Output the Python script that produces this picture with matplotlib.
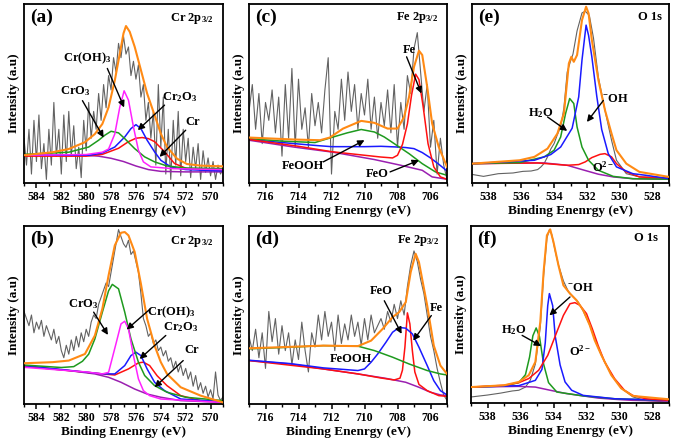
import numpy as np
import matplotlib
matplotlib.use("Agg")
import matplotlib.pyplot as plt
from matplotlib.ticker import MultipleLocator

plt.rcParams['font.family'] = ['Liberation Serif', 'DejaVu Serif']
plt.rcParams['font.weight'] = 'bold'
plt.rcParams['mathtext.fontset'] = 'custom'
plt.rcParams['mathtext.rm'] = 'Liberation Serif:bold'
plt.rcParams['mathtext.it'] = 'Liberation Serif:bold'
plt.rcParams['mathtext.bf'] = 'Liberation Serif:bold'

# ---------------- data (intensity in % of axis height) ----------------
# (a) Cr 2p3/2
a_raw_E = np.round(np.arange(585.0, 568.9, -0.2), 1)
a_raw = [25, 10, 30, 5, 35, 12, 38, 8, 22, 2, 30, 10, 45, 15, 30, 5, 38, 12, 40, 15,
         32, 8, 20, 3, 35, 18, 45, 25, 40, 30, 50, 35, 55, 42, 60, 52, 70, 62, 78, 70,
         82, 72, 76, 60, 68, 58, 66, 48, 55, 35, 45, 25, 40, 10, 55, 20, 48, 5, 30, 2,
         35, 10, 40, 4, 30, 12, 25, 3, 20, 8, 22, 2, 18, 6, 14, 4, 12, 2, 10, 5, 8]
a_purple_E = [585, 580, 579, 578, 577, 576, 575, 574, 572, 569]
a_purple = [15.5, 15.5, 15.0, 13.8, 12.0, 9.5, 7.5, 6.5, 6.2, 6.2]
a_red_E = [585, 580, 578.7, 577.4, 576.6, 576.0, 575.5, 575.0, 574.5, 573.7, 572.9, 571.9, 569]
a_red = [15, 15, 16, 19.4, 23.1, 25.0, 25.4, 24.8, 23.1, 17.5, 10.9, 8.0, 7.0]
a_blue_E = [585, 579.7, 578.7, 577.7, 576.9, 576.4, 576.0, 575.6, 575.1, 574.5, 574.0, 573.2, 572, 569]
a_blue = [15.5, 15.5, 16.8, 20.1, 25.7, 30.4, 32.6, 30.4, 23.9, 17.4, 12.7, 9.0, 7.5, 6.7]
a_green_E = [585, 581.4, 579.8, 579.0, 578.5, 578.0, 577.4, 576.9, 576.1, 575.3, 574.5, 573.5, 572, 569]
a_green = [16.0, 17.2, 20.1, 23.9, 26.7, 28.9, 28.0, 24.8, 19.2, 14.6, 11.8, 9.5, 8.4, 8.0]
a_magenta_E = [585, 580, 578.7, 578.2, 577.7, 577.3, 576.95, 576.6, 576.2, 575.8, 575.4, 574.8, 573, 569]
a_magenta = [15.5, 15.9, 17.2, 19.0, 27.4, 42.3, 51.5, 46.3, 31.3, 18.3, 11.8, 9.0, 8.0, 7.5]
a_orange_E = [585, 582.7, 581.4, 580.1, 579.3, 578.7, 578.2, 577.7, 577.3, 577.0, 576.8, 576.5,
              576.1, 575.6, 575.1, 574.5, 574.0, 573.5, 572.7, 571.9, 570.8, 569]
a_orange = [15.5, 17.2, 19.0, 22.8, 27.4, 33.0, 42.3, 57.3, 72.2, 83.6, 87.7, 84.5,
            76.1, 63.1, 50.0, 37.9, 27.6, 20.1, 13.6, 10.6, 9.7, 9.3]

# (b) Cr 2p3/2
b_raw_E = np.round(np.arange(585.0, 568.9, -0.2), 1)
b_raw = [52, 48, 44, 50, 40, 46, 42, 47, 38, 44, 40, 36, 42, 34, 38, 30, 26, 33, 28, 36,
         30, 38, 32, 40, 35, 42, 38, 46, 50, 48, 56, 60, 64, 68, 66, 74, 82, 90, 98, 94,
         90, 88, 92, 84, 86, 80, 74, 62, 48, 44, 38, 40, 34, 36, 30, 32, 27, 30, 24, 26,
         20, 24, 18, 22, 16, 20, 14, 18, 10, 16, 8, 12, 6, 10, 4, 8, 3, 18, 5, 2, 4]
b_purple_E = [585, 581.4, 579.3, 578.2, 577.2, 576.1, 575.1, 574.0, 572.4, 569]
b_purple = [21.2, 18.8, 16.9, 15.0, 12.2, 8.4, 5.6, 3.8, 1.9, 0.9]
b_green_E = [585, 582, 581, 580.3, 579.8, 579.3, 578.7, 578.2, 577.9, 577.4, 576.9, 576.4,
             575.8, 575.3, 574.5, 573.5, 572, 569]
b_green = [21.9, 20.5, 21.0, 24.0, 28.0, 36.6, 51.6, 63.6, 67.2, 64.7, 51.6, 36.6,
           23.5, 16.0, 10.3, 6.6, 3.8, 1.9]
b_magenta_E = [585, 580, 578.7, 578.2, 577.6, 577.2, 576.9, 576.6, 576.2, 575.8, 575.4, 574.9, 574.0, 569]
b_magenta = [20.6, 18.0, 16.9, 17.8, 34.0, 45.0, 46.5, 42.2, 27.2, 14.1, 7.5, 4.7, 2.8, 0.9]
b_blue_E = [585, 579.5, 578.7, 577.7, 576.9, 576.4, 576.0, 575.6, 575.1, 574.5, 573.7, 572.4, 569]
b_blue = [21.6, 17.5, 16.9, 16.9, 21.6, 27.2, 29.1, 27.2, 19.7, 12.2, 7.5, 2.8, 1.3]
b_red_E = [585, 579.5, 578.7, 577.7, 576.6, 575.8, 575.4, 574.9, 574.3, 573.5, 572.4, 570.8, 569]
b_red = [21.2, 17.5, 16.9, 16.3, 19.7, 23.1, 23.5, 21.6, 15.9, 10.3, 4.7, 1.9, 1.3]
b_orange_E = [585, 582.7, 581.4, 580.1, 579.3, 578.7, 578.2, 577.7, 577.2, 576.9, 576.6,
              576.1, 575.6, 575.1, 574.5, 574.0, 573.5, 572.4, 570.8, 569]
b_orange = [22.9, 23.5, 24.4, 28.1, 38.5, 53.5, 72.2, 89.1, 96.2, 96.6, 94.7,
            85.4, 67.5, 47.8, 32.8, 23.5, 16.9, 9.4, 4.7, 0.9]

# (c) Fe 2p3/2
c_raw_E = np.round(np.arange(717.0, 704.9, -0.2), 1)
c_raw = [40, 55, 30, 50, 22, 45, 35, 52, 28, 48, 15, 55, 25, 64, 20, 58, 30, 42, 20, 50,
         32, 45, 28, 52, 70, 5, 40, 30, 58, 35, 62, 40, 55, 30, 50, 38, 58, 30, 48, 25,
         45, 32, 52, 28, 55, 20, 45, 30, 60, 50, 75, 84, 62, 40, 55, 20, 35, 5, 25, 10, 2]
c_purple_E = [717, 714.3, 711.9, 709.4, 707.8, 706.5, 705.9, 705]
c_purple = [23.9, 20.1, 17.2, 13.1, 9.9, 7.1, 3.4, 2.1]
c_red_E = [717, 714, 712, 710, 709, 708.3, 708.0, 707.7, 707.4, 707.15, 706.9, 706.7,
           706.45, 706.15, 705.8, 705.4, 705]
c_red = [24.3, 20.5, 17.5, 15.5, 14.5, 14.0, 15.5, 21.5, 33.0, 49.0, 60.8, 57.8,
         43.0, 22.0, 9.0, 3.4, 2.1]
c_blue_E = [717, 715, 713, 712, 711, 710, 709, 708, 707.5, 707, 706.5, 706, 705.5, 705]
c_blue = [24.3, 22.6, 21.0, 20.3, 20.3, 20.3, 20.5, 20.1, 19.8, 19.2, 17.0, 14.0, 10.5, 6.7]
c_green_E = [717, 715, 713, 711.9, 711.05, 710.2, 709.4, 708.8, 708.2, 707.3, 706.5, 705.7, 705]
c_green = [24.8, 23.4, 22.6, 25.7, 28.0, 29.9, 28.5, 25.7, 22.0, 16.4, 10.8, 6.2, 4.3]
c_orange_E = [717, 714.3, 712.7, 712.1, 711.3, 710.2, 709.4, 708.6, 708.0, 707.6, 707.3,
              707.0, 706.7, 706.5, 706.2, 705.9, 705.5, 705]
c_orange = [25.4, 24.3, 23.9, 25.4, 30.4, 34.7, 33.6, 30.4, 30.4, 36.9, 48.1,
            64.9, 73.9, 71.5, 53.7, 33.2, 20.1, 9.0]

# (d) Fe 2p3/2
d_raw_E = np.round(np.arange(717.0, 704.9, -0.2), 1)
d_raw = [38, 30, 42, 26, 40, 20, 52, 35, 48, 28, 44, 30, 40, 22, 36, 25, 46, 30, 18, 40,
         32, 50, 36, 52, 38, 46, 30, 50, 34, 45, 36, 50, 38, 46, 33, 48, 36, 50, 40, 44,
         48, 42, 52, 46, 56, 48, 58, 50, 66, 78, 86, 80, 70, 62, 50, 38, 30, 20, 12, 5, 2]
d_purple_E = [717, 714.5, 712.5, 710.4, 708.7, 707.5, 706.7, 706.0, 705.4, 705]
d_purple = [24.4, 22.5, 19.7, 16.9, 14.4, 12.2, 9.4, 6.6, 5.1, 4.7]
d_red_E = [717, 712.5, 710.4, 709.0, 708.2, 707.85, 707.7, 707.55, 707.4, 707.25, 707.1,
           706.95, 706.7, 706.2, 705.5, 705]
d_red = [24.4, 19.7, 16.9, 14.6, 13.5, 14.5, 19.0, 32.0, 51.2, 45.0, 30.0,
         18.0, 11.0, 7.5, 4.7, 4.3]
d_blue_E = [717, 714.5, 712.5, 710.4, 710.0, 709.6, 709.2, 708.7, 708.3, 707.9, 707.5,
            707.1, 706.7, 706.2, 705.8, 705.4, 705]
d_blue = [24.6, 22.7, 20.3, 18.8, 19.7, 23.5, 28.1, 34.7, 40.3, 43.0, 42.6,
          39.4, 31.9, 21.6, 13.1, 7.5, 5.1]
d_green_E = [717, 714.5, 712.5, 710.4, 709.4, 708.3, 707.3, 706.2, 705.4, 705]
d_green = [31.0, 31.9, 32.8, 32.5, 30.0, 26.3, 22.5, 18.8, 16.9, 16.3]
d_orange_E = [717, 714.5, 712.5, 710.4, 709.6, 708.9, 708.3, 707.9, 707.5, 707.2, 706.9,
              706.7, 706.2, 705.8, 705.4, 705]
d_orange = [31.3, 32.1, 32.8, 32.5, 35.6, 42.2, 48.8, 51.6, 57.2, 74.1, 84.4,
            79.7, 55.3, 32.8, 21.6, 16.9]

# (e) O 1s
e_raw_E = [539, 538.3, 537.4, 536.5, 535.9, 535.4, 535.0, 534.8, 534.6, 534.4, 534.2, 534.0,
           533.8, 533.6, 533.4, 533.2, 533.0, 532.85, 532.6, 532.3, 532.1, 531.85, 531.6,
           531.3, 530.9, 530.5, 530.2, 529.9, 529.6, 528.8, 527]
e_raw = [4.8, 3.7, 5.2, 5.6, 6.5, 6.7, 7.5, 9.0, 11.0, 14.6, 19.0, 22.0,
         27.0, 31.3, 42.0, 62.0, 68.0, 72.0, 85.0, 95.0, 96.0, 93.5, 81.0,
         59.0, 40.7, 23.9, 12.7, 9.0, 5.2, 3.4, 3.0]
e_purple_E = [539, 536.1, 534.6, 533.2, 532.3, 531.3, 530.4, 529.2, 527]
e_purple = [10.8, 11.2, 11.2, 9.9, 7.5, 4.9, 3.4, 2.4, 2.1]
e_red_E = [539, 535, 533.2, 532.5, 532.1, 531.7, 531.2, 530.9, 530.5, 530.2, 529.6, 528.8, 527]
e_red = [10.8, 11.2, 9.9, 10.3, 11.8, 14.2, 16.0, 16.4, 14.6, 10.8, 6.2, 3.4, 2.4]
e_green_E = [539, 536.1, 534.6, 534.0, 533.6, 533.3, 533.05, 532.8, 532.6, 532.3, 531.9,
             531.3, 530.4, 529.2, 527]
e_green = [10.8, 11.4, 14.6, 18.3, 25.7, 38.8, 47.2, 44.4, 31.3, 20.1, 12.7,
           7.1, 3.7, 2.4, 2.1]
e_blue_E = [539, 535.2, 534.2, 533.6, 532.9, 532.5, 532.3, 532.05, 531.9, 531.7, 531.4,
            531.1, 530.7, 530.2, 529.2, 528.4, 527]
e_blue = [10.8, 12.7, 15.9, 20.1, 30.6, 48.1, 68.7, 88.2, 82.5, 70.5, 48.5,
          29.9, 16.4, 9.0, 5.2, 4.3, 2.4]
e_orange_E = [539, 536.1, 535.2, 534.4, 533.8, 533.4, 533.1, 532.95, 532.8, 532.6, 532.3,
              532.05, 531.9, 531.7, 531.3, 530.9, 530.5, 530.2, 529.6, 528.8, 527]
e_orange = [10.8, 12.7, 14.6, 19.2, 27.6, 38.8, 66.8, 70.5, 67.7, 71.5, 91.0,
            98.5, 94.8, 79.9, 57.5, 40.7, 27.6, 18.3, 10.8, 6.2, 3.4]

# (f) O 1s
f_raw_E = [539, 538, 537.2, 536.5, 536.1, 535.7, 535.4, 535.1, 534.8, 534.6, 534.4, 534.25,
           534.1, 533.9, 533.7, 533.4, 533.1, 532.8, 532.5, 532.2, 531.8, 531.5, 531.1,
           530.5, 529.9, 529.2, 528.5, 527.5, 527]
f_raw = [3.4, 4.5, 5.6, 6.8, 7.2, 9.0, 13.0, 22.0, 43.0, 72.0, 93.0, 98.0,
         95.0, 86.0, 78.0, 69.0, 63.0, 60.0, 57.0, 52.0, 44.0, 36.0, 27.0,
         16.0, 8.5, 3.5, 1.5, 0.8, 0.6]
f_purple_E = [539, 536.1, 535.1, 534.2, 533.2, 532.2, 531.3, 530.3, 529.2, 527]
f_purple = [9.0, 9.4, 9.0, 7.2, 5.3, 4.0, 2.8, 2.1, 1.5, 1.1]
f_green_E = [539, 537, 536.1, 535.7, 535.45, 535.25, 535.05, 534.85, 534.6, 534.3, 533.8,
             532.2, 530.3, 527]
f_green = [9.0, 9.6, 11.5, 16.0, 26.0, 38.0, 42.4, 37.5, 22.0, 11.5, 6.2, 4.0, 2.4, 1.5]
f_blue_E = [539, 536.1, 535.1, 534.7, 534.5, 534.35, 534.25, 534.05, 533.9, 533.6, 533.3,
            532.9, 532.2, 530.3, 527]
f_blue = [9.0, 9.8, 12.8, 19.0, 34.0, 55.0, 61.8, 55.0, 38.0, 21.5, 11.9, 7.2, 4.3, 2.4, 1.5]
f_red_E = [539, 537, 536.1, 535.5, 534.9, 534.35, 533.8, 533.4, 533.0, 532.7, 532.4, 532.0,
           531.65, 531.3, 530.9, 530.3, 529.7, 529.2, 528.4, 527]
f_red = [9.0, 10.0, 11.5, 13.8, 18.5, 26.9, 40.1, 49.5, 56.1, 56.7, 55.2, 50.5,
         42.0, 32.6, 23.2, 13.8, 7.2, 4.3, 2.4, 1.5]
f_orange_E = [539, 537, 536.1, 535.5, 535.1, 534.8, 534.6, 534.4, 534.2, 534.0, 533.7,
              533.4, 533.0, 532.6, 532.2, 531.8, 531.5, 531.1, 530.5, 529.9, 529.2, 527]
f_orange = [9.0, 10.0, 11.9, 15.7, 23.2, 45.8, 74.0, 94.7, 98.1, 90.9, 77.8,
            66.5, 61.8, 58.0, 52.4, 43.9, 35.4, 27.1, 15.8, 8.3, 4.0, 2.1]

# ---------------- drawing ----------------
C_GRAY = '#626262'
C_ORANGE = '#ff8a14'
C_PURPLE = '#9a1fb0'
C_RED = '#ff1010'
C_BLUE = '#1a1aff'
C_GREEN = '#1e9a1e'
C_MAG = '#ff22ff'

W, H = 675, 444
fig = plt.figure(figsize=(W / 100, H / 100), dpi=100)


def make_ax(l, t, r, b):
    return fig.add_axes([l / W, (H - b) / H, (r - l) / W, (b - t) / H])


def style(ax, xlim, title, letter):
    ax.set_xlim(*xlim)
    ax.set_ylim(0, 100)
    ax.set_yticks([])
    ax.xaxis.set_major_locator(MultipleLocator(2))
    ax.xaxis.set_minor_locator(MultipleLocator(1))
    ax.tick_params(axis='x', which='major', direction='out', length=3.5, width=1.1,
                   labelsize=8.5, pad=2)
    ax.tick_params(axis='x', which='minor', direction='out', length=2.5, width=1.0)
    for lab in ax.get_xticklabels():
        lab.set_fontweight('bold')
    for s in ax.spines.values():
        s.set_linewidth(1.3)
    ax.set_xlabel('Binding Enenrgy (eV)', fontsize=9.5, fontweight='bold', labelpad=2)
    ax.set_ylabel('Intensity (a.u)', fontsize=9.5, fontweight='bold', labelpad=3)
    ax.text(0.03, 0.925, letter, transform=ax.transAxes, fontsize=14, fontweight='bold',
            ha='left', va='center')
    ax.text(title[1], title[2], title[0], transform=ax.transAxes, fontsize=9,
            fontweight='bold', ha='right', va='center')


def arrow(ax, label, txt, tail, tip):
    ax.text(txt[0], txt[1], label, fontsize=9, fontweight='bold', ha='center', va='center')
    if tail is not None:
        ax.annotate('', xy=tip, xytext=tail,
                    arrowprops=dict(arrowstyle='-|>', color='k', lw=1.0,
                                    mutation_scale=9.5, shrinkA=0, shrinkB=0))


def curves(ax, raw, comps, orange):
    ax.plot(raw[0], raw[1], color=C_GRAY, lw=0.8, zorder=1)
    for E, I, c in comps:
        ax.plot(E, I, color=c, lw=1.1, zorder=2)
    ax.plot(orange[0], orange[1], color=C_ORANGE, lw=1.5, zorder=3)


# (a)
ax = make_ax(24, 4, 223, 183)
curves(ax, (a_raw_E, a_raw),
       [(a_purple_E, a_purple, C_PURPLE), (a_red_E, a_red, C_RED), (a_blue_E, a_blue, C_BLUE),
        (a_green_E, a_green, C_GREEN), (a_magenta_E, a_magenta, C_MAG)],
       (a_orange_E, a_orange))
style(ax, (585, 569), ('Cr 2p$_{3/2}$', 0.955, 0.92), '(a)')
arrow(ax, 'Cr(OH)$_3$', (579.9, 69.5), (578.3, 64.0), (576.95, 42.2))
arrow(ax, 'CrO$_3$', (580.9, 51.5), (580.3, 46.0), (578.6, 25.4))
arrow(ax, 'Cr$_2$O$_3$', (572.5, 48.0), (573.7, 43.5), (575.85, 29.5))
arrow(ax, 'Cr', (571.4, 34.0), (572.0, 29.5), (574.1, 14.6))

# (b)
ax = make_ax(24, 226, 223, 404)
curves(ax, (b_raw_E, b_raw),
       [(b_purple_E, b_purple, C_PURPLE), (b_red_E, b_red, C_RED), (b_blue_E, b_blue, C_BLUE),
        (b_green_E, b_green, C_GREEN), (b_magenta_E, b_magenta, C_MAG)],
       (b_orange_E, b_orange))
style(ax, (585, 569), ('Cr 2p$_{3/2}$', 0.955, 0.915), '(b)')
arrow(ax, 'CrO$_3$', (580.2, 56.3), (579.4, 51.6), (578.25, 38.8))
arrow(ax, 'Cr(OH)$_3$', (573.2, 51.6), (574.9, 53.1), (576.75, 41.8))
arrow(ax, 'Cr$_2$O$_3$', (572.4, 43.2), (573.6, 38.5), (575.7, 25.3))
arrow(ax, 'Cr', (571.5, 30.6), (572.2, 24.4), (574.5, 9.4))

# (c)
ax = make_ax(249, 4, 447, 183)
curves(ax, (c_raw_E, c_raw),
       [(c_purple_E, c_purple, C_PURPLE), (c_blue_E, c_blue, C_BLUE),
        (c_green_E, c_green, C_GREEN), (c_red_E, c_red, C_RED)],
       (c_orange_E, c_orange))
style(ax, (717, 705), ('Fe 2p$_{3/2}$', 0.955, 0.925), '(c)')
arrow(ax, 'Fe', (707.3, 74.3), (707.45, 70.5), (706.55, 50.0))
arrow(ax, 'FeOOH', (713.75, 9.5), (712.5, 11.8), (710.0, 23.9))
arrow(ax, 'FeO', (709.2, 4.9), (708.45, 6.2), (706.7, 12.7))

# (d)
ax = make_ax(249, 226, 447, 404)
curves(ax, (d_raw_E, d_raw),
       [(d_purple_E, d_purple, C_PURPLE), (d_red_E, d_red, C_RED), (d_blue_E, d_blue, C_BLUE),
        (d_green_E, d_green, C_GREEN)],
       (d_orange_E, d_orange))
style(ax, (717, 705), ('Fe 2p$_{3/2}$', 0.96, 0.92), '(d)')
arrow(ax, 'FeO', (709.0, 63.4), (708.8, 58.0), (707.75, 39.4))
arrow(ax, 'Fe', (705.65, 54.0), (705.95, 49.7), (707.05, 35.6))
arrow(ax, 'FeOOH', (710.8, 25.3), None, None)

# (e)
ax = make_ax(472, 4, 669, 183)
curves(ax, (e_raw_E, e_raw),
       [(e_purple_E, e_purple, C_PURPLE), (e_red_E, e_red, C_RED),
        (e_green_E, e_green, C_GREEN), (e_blue_E, e_blue, C_BLUE)],
       (e_orange_E, e_orange))
style(ax, (539, 527), ('O 1s', 0.965, 0.925), '(e)')
arrow(ax, 'H$_2$O', (534.8, 38.8), (534.4, 36.9), (533.2, 29.1))
arrow(ax, '$^{-}$OH', (530.25, 46.8), (531.0, 46.1), (532.0, 34.1))
arrow(ax, 'O$^{2-}$', (531.0, 9.0), None, None)

# (f)
ax = make_ax(471, 226, 669, 403)
curves(ax, (f_raw_E, f_raw),
       [(f_purple_E, f_purple, C_PURPLE), (f_green_E, f_green, C_GREEN),
        (f_blue_E, f_blue, C_BLUE), (f_red_E, f_red, C_RED)],
       (f_orange_E, f_orange))
style(ax, (539, 527), ('O 1s', 0.945, 0.93), '(f)')
arrow(ax, 'H$_2$O', (536.4, 41.1), (535.9, 38.2), (534.75, 32.2))
arrow(ax, '$^{-}$OH', (532.35, 65.2), (533.0, 59.9), (534.25, 49.5))
arrow(ax, 'O$^{2-}$', (532.4, 29.4), None, None)

fig.savefig('out.png', dpi=100)
